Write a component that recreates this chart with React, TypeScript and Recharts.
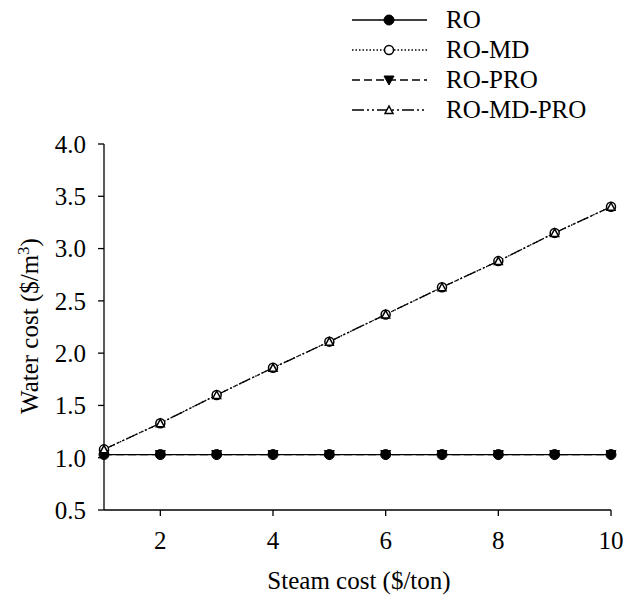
import { LineChart, Line, XAxis, YAxis, Legend } from 'recharts';

const steamCost = [1, 2, 3, 4, 5, 6, 7, 8, 9, 10];
const roCost = [1.03, 1.03, 1.03, 1.03, 1.03, 1.03, 1.03, 1.03, 1.03, 1.03];
const roMdCost = [1.08, 1.33, 1.6, 1.86, 2.11, 2.37, 2.63, 2.88, 3.15, 3.4];
const roProCost = [1.03, 1.03, 1.03, 1.03, 1.03, 1.03, 1.03, 1.03, 1.03, 1.03];
const roMdProCost = [1.08, 1.33, 1.6, 1.86, 2.11, 2.37, 2.63, 2.88, 3.15, 3.4];

const xTicks = [2, 4, 6, 8, 10];
const yTicks = [0.5, 1.0, 1.5, 2.0, 2.5, 3.0, 3.5, 4.0];

const FONT = '"Liberation Serif", "Times New Roman", serif';
const INK = '#000';
const FS = 25;

const chartData = steamCost.map((s, i) => ({
  steam: s,
  ro: roCost[i],
  roMd: roMdCost[i],
  roPro: roProCost[i],
  roMdPro: roMdProCost[i],
}));

// marker shapes
const FilledCircle = (p: any) => <circle cx={p.cx} cy={p.cy} r={5} fill={INK} stroke={INK} strokeWidth={1} />;
const OpenCircle = (p: any) => <circle cx={p.cx} cy={p.cy} r={4.5} fill="#fff" stroke={INK} strokeWidth={1.5} />;
const DownTriangle = (p: any) => (
  <path d={`M${p.cx - 5},${p.cy - 4} L${p.cx + 5},${p.cy - 4} L${p.cx},${p.cy + 5} Z`} fill={INK} stroke={INK} />
);
const UpTriangle = (p: any) => (
  <path d={`M${p.cx - 4},${p.cy + 3.5} L${p.cx + 4},${p.cy + 3.5} L${p.cx},${p.cy - 4} Z`} fill="#fff" stroke={INK} strokeWidth={1.5} />
);

const seriesDefs = [
  { key: 'ro', name: 'RO', dash: undefined, dot: FilledCircle },
  { key: 'roMd', name: 'RO-MD', dash: '1.5 2', dot: OpenCircle },
  { key: 'roPro', name: 'RO-PRO', dash: '8 4', dot: DownTriangle },
  { key: 'roMdPro', name: 'RO-MD-PRO', dash: '12 3 2 3 2 3', dot: UpTriangle },
];

const LegendBox = () => (
  <svg width={270} height={130} style={{ display: 'block' }}>
    {seriesDefs.map((s, i) => {
      const y = 20 + i * 30;
      const Dot = s.dot;
      return (
        <g key={s.key}>
          <line x1={12} y1={y} x2={87} y2={y} stroke={INK} strokeWidth={1.3} strokeDasharray={s.dash} />
          <Dot cx={49} cy={y} />
          <text x={106} y={y + 8} fontFamily={FONT} fontSize={FS} fill={INK}>{s.name}</text>
        </g>
      );
    })}
  </svg>
);

const YLabel = () => (
  <text transform="translate(38,326) rotate(-90)" textAnchor="middle" fontFamily={FONT} fontSize={FS} fill={INK}>
    Water cost ($/m<tspan baselineShift="super" fontSize={17}>3</tspan>)
  </text>
);

const XLabel = () => (
  <text x={359} y={589} textAnchor="middle" fontFamily={FONT} fontSize={FS} fill={INK}>
    Steam cost ($/ton)
  </text>
);

export default function App() {
  return (
    <div style={{ position: 'absolute', left: 0, top: 0, background: '#fff' }}>
      <LineChart
        width={627}
        height={599}
        data={chartData}
        margin={{ top: 144, right: 16, left: 0, bottom: 39 }}
      >
        <XAxis
          dataKey="steam"
          type="number"
          domain={[1, 10]}
          ticks={xTicks}
          height={50}
          stroke={INK}
          strokeWidth={1.3}
          tickSize={6}
          tickMargin={15}
          tick={{ fill: INK, fontFamily: FONT, fontSize: FS }}
          label={<XLabel />}
        />
        <XAxis xAxisId="top" dataKey="steam" type="number" domain={[1, 10]} orientation="top" height={0} tick={false} tickLine={false} stroke={INK} strokeWidth={1.3} />
        <YAxis
          type="number"
          domain={[0.5, 4]}
          ticks={yTicks}
          width={104}
          stroke={INK}
          strokeWidth={1.3}
          tickSize={6}
          tickMargin={12}
          tickFormatter={(v: number) => v.toFixed(1)}
          tick={{ fill: INK, fontFamily: FONT, fontSize: FS }}
          label={<YLabel />}
        />
        <YAxis yAxisId="right" orientation="right" width={0} domain={[0.5, 4]} tick={false} tickLine={false} stroke={INK} strokeWidth={1.3} />
        <Legend
          layout="vertical"
          verticalAlign="middle"
          align="center"
          wrapperStyle={{ left: 340, top: 0, width: 270 }}
          content={() => <LegendBox />}
        />
        {seriesDefs.map((s) => (
          <Line
            key={s.key}
            dataKey={s.key}
            name={s.name}
            type="linear"
            stroke={INK}
            strokeWidth={1.3}
            strokeDasharray={s.dash}
            dot={s.dot}
            activeDot={false}
            isAnimationActive={false}
          />
        ))}
      </LineChart>
    </div>
  );
}
